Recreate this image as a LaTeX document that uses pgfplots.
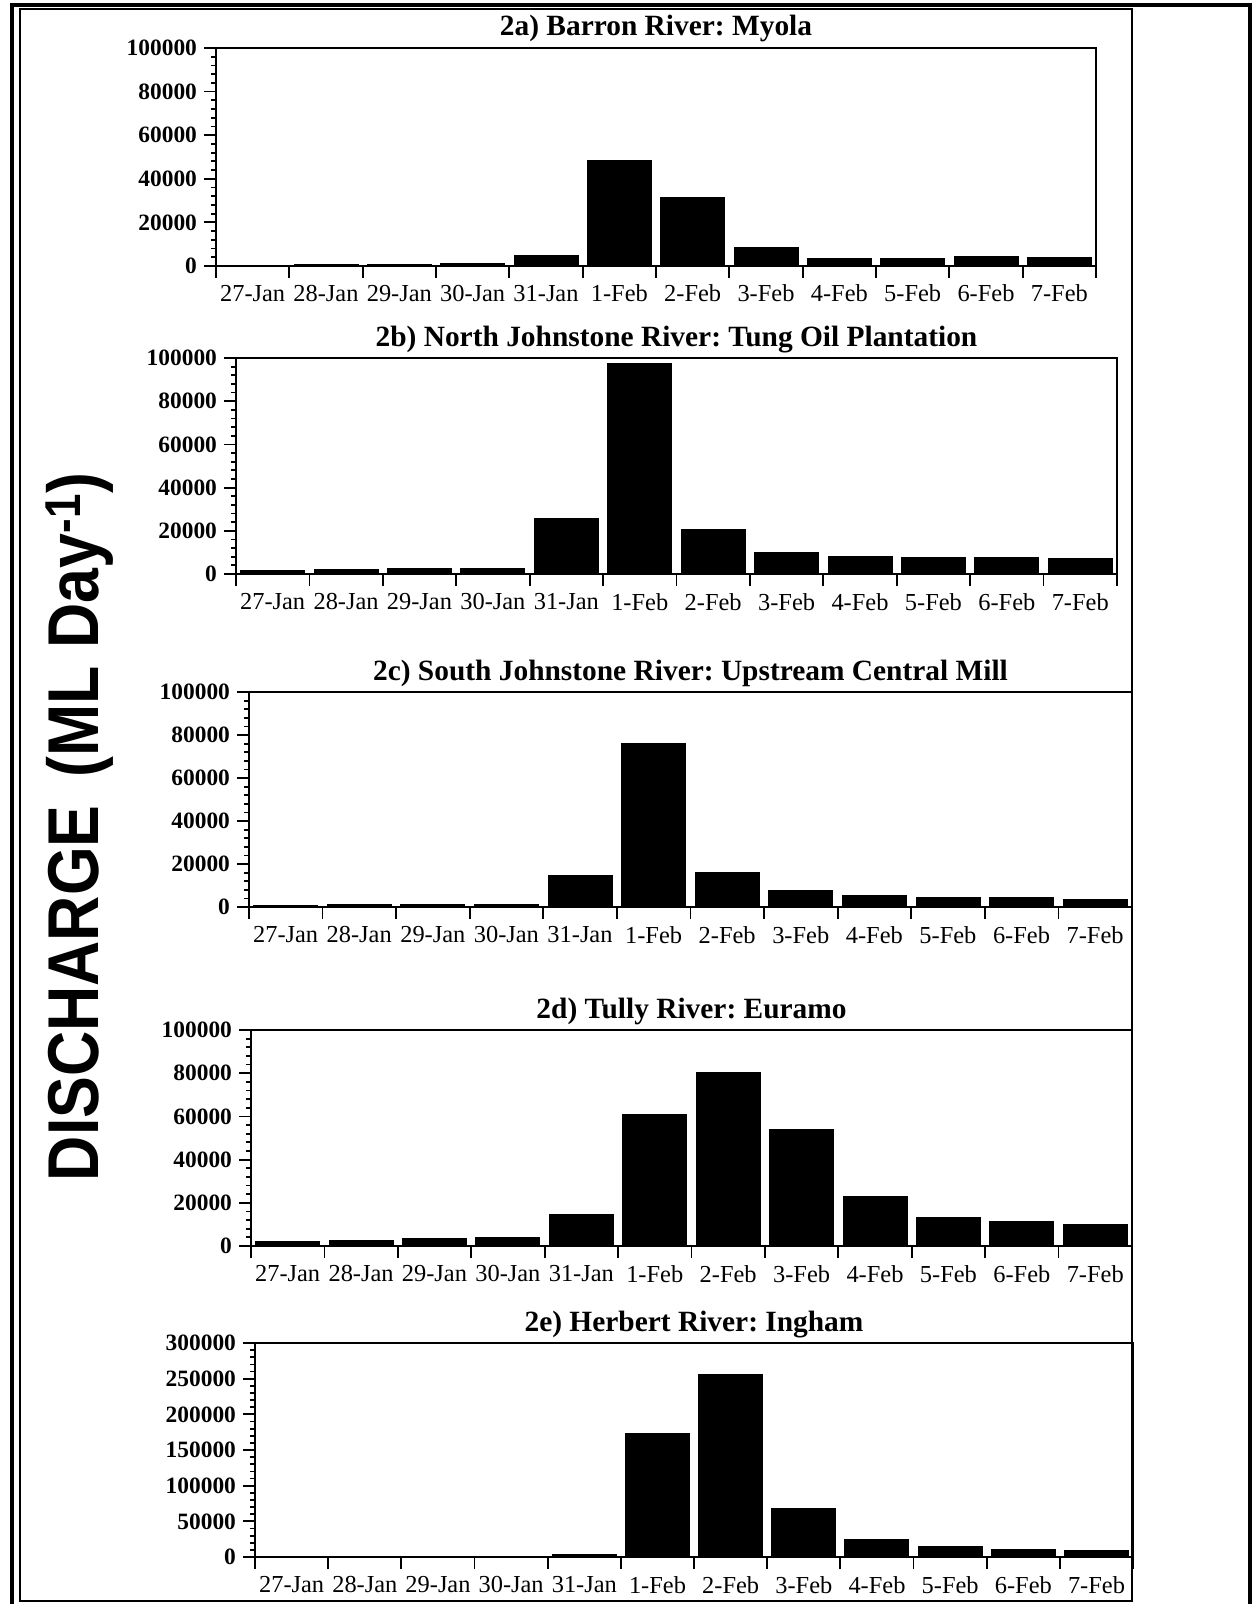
\documentclass[border=0pt]{standalone}
\usepackage{fontspec}
\setmainfont{Liberation Serif}
\newfontfamily\labelfont{Liberation Sans}
\usepackage{graphicx}
\usepackage{pgfplots}
\usepackage{pgfplotstable}
\pgfplotsset{compat=1.18}
\frenchspacing

% Daily discharge (ML/day), 27 Jan -- 7 Feb, one column per gauging station
\pgfplotstableread{
x  barron  njohn  sjohn  tully  herbert
0  400     1600   800    1900   500
1  600     2300   1100   2400   900
2  800     2600   1200   3300   600
3  1000    2400   1300   3800   600
4  4800    25800  14800  14700  3600
5  48400   97600  76200  60700  173800
6  31600   20400  16200  80100  256000
7  8500    10000  7600   54000  67400
8  3400    8000   5200   22700  24800
9  3400    7600   4300   13300  14500
10 4300    7600   4300   11400  10200
11 3900    7100   3500   10000  9200
}\discharge

\pgfplotsset{
  river/.style={
    scale only axis,
    anchor=south west,
    ybar, bar width=32pt,
    xmin=-0.5, xmax=11.5, ymin=0,
    axis line style={line width=1pt},
    tick align=outside, xtick pos=left, ytick pos=left,
    major tick length=6pt, minor tick length=2.6pt,
    every tick/.style={black, line width=0.9pt},
    minor y tick num=4,
    xtick={-0.5,0.5,1.5,2.5,3.5,4.5,5.5,6.5,7.5,8.5,9.5,10.5,11.5},
    xticklabels={27-Jan,28-Jan,29-Jan,30-Jan,31-Jan,1-Feb,2-Feb,3-Feb,4-Feb,5-Feb,6-Feb,7-Feb,{}},
    xticklabel style={font=\fontsize{12.2}{14}\selectfont, xshift=18.33pt},
    yticklabel style={font=\bfseries\fontsize{11.7}{13}\selectfont},
    every axis title/.style={at={(0.5,1)}, anchor=base, yshift=6pt,
      font=\bfseries\fontsize{14.7}{16}\selectfont},
    scaled y ticks=false,
  },
  river100/.style={ymax=100000,
    ytick={0,20000,40000,60000,80000,100000},
    yticklabels={0,20000,40000,60000,80000,100000}},
  riverbars/.style={fill=black, draw=black, line width=0.5pt},
}

\begin{document}
\begin{tikzpicture}
\useasboundingbox (0,0) rectangle (629pt,-802pt);

% 2a
\begin{axis}[river, river100, at={(108pt,-133pt)}, width=440pt, height=109pt,
  title={2a) Barron River: Myola}]
  \addplot[riverbars] table[x=x, y=barron] {\discharge};
\end{axis}

% 2b
\begin{axis}[river, river100, at={(118pt,-287pt)}, width=440.5pt, height=108pt,
  title={2b) North Johnstone River: Tung Oil Plantation}]
  \addplot[riverbars] table[x=x, y=njohn] {\discharge};
\end{axis}

% 2c
\begin{axis}[river, river100, at={(124.5pt,-453.5pt)}, width=441.5pt, height=107.5pt,
  title={2c) South Johnstone River: Upstream Central Mill}]
  \addplot[riverbars] table[x=x, y=sjohn] {\discharge};
\end{axis}

% 2d
\begin{axis}[river, river100, at={(125.5pt,-623pt)}, width=440.5pt, height=108pt,
  title={2d) Tully River: Euramo}]
  \addplot[riverbars] table[x=x, y=tully] {\discharge};
\end{axis}

% 2e
\begin{axis}[river, at={(127.5pt,-778.5pt)}, width=439pt, height=107pt,
  ymax=300000,
  ytick={0,50000,100000,150000,200000,250000,300000},
  yticklabels={0,50000,100000,150000,200000,250000,300000},
  title={2e) Herbert River: Ingham}]
  \addplot[riverbars] table[x=x, y=herbert] {\discharge};
\end{axis}

% shared vertical label
\node[rotate=90] at (40pt,-413.5pt)
  {\scalebox{0.87}[1]{\labelfont\bfseries\fontsize{36}{40}\selectfont
   DISCHARGE\hspace{0.45em}(ML Day\textsuperscript{-1})}};

% page frames
\draw[line width=0.8pt] (10pt,-4.5pt) rectangle (566pt,-800.5pt);
\draw[line width=1.6pt] (6pt,-803pt) -- (6pt,-2.5pt) -- (625pt,-2.5pt) -- (625pt,-803pt);
\end{tikzpicture}
\end{document}
